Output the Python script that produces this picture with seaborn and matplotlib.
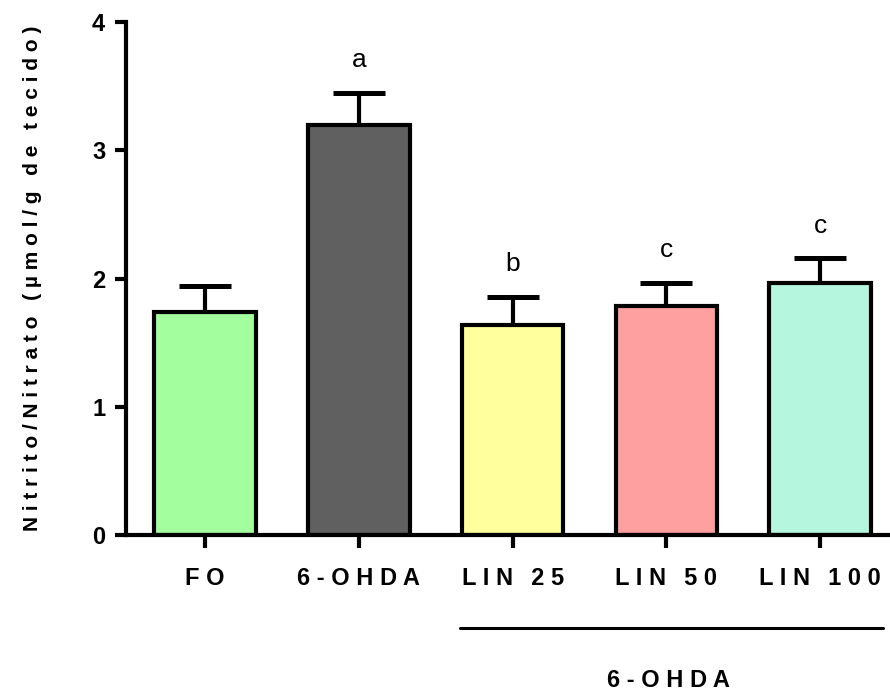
import matplotlib
matplotlib.use("Agg")
import matplotlib.pyplot as plt
import seaborn as sns
import numpy as np
import pandas as pd

groups = ["FO", "6-OHDA", "LIN 25", "LIN 50", "LIN 100"]
means = [1.74, 3.20, 1.64, 1.79, 1.97]
sem = [0.20, 0.25, 0.22, 0.18, 0.19]
letters = ["", "a", "b", "c", "c"]
colors = ["#A3FF9E", "#606060", "#FFFF9E", "#FFA0A0", "#B4F6DE"]
yticks = [0, 1, 2, 3, 4]
ylabel = "Nitrito/Nitrato (µmol/g de tecido)"
bracket_label = "6-OHDA"

sns.set_style("ticks")
plt.rcParams["font.family"] = ["Liberation Sans", "DejaVu Sans"]
for k in ["text.color", "axes.labelcolor", "xtick.color", "ytick.color",
          "axes.edgecolor"]:
    plt.rcParams[k] = "black"

def spaced(s):
    return " ".join(list(s.replace(" ", "\u2009")))

df = pd.DataFrame({"group": groups, "mean": means})

fig = plt.figure(figsize=(8.9, 6.95), dpi=100)
ax = fig.add_axes([0.1416, 0.230, 0.856, 0.738])

sns.barplot(data=df, x="group", y="mean", hue="group", palette=colors,
            legend=False, width=0.66, edgecolor="black", linewidth=3.0,
            saturation=1, ax=ax, zorder=2)

x = np.arange(len(groups))
ax.errorbar(x, means, yerr=[np.zeros(len(sem)), sem], fmt="none",
            ecolor="black", elinewidth=3.0, capsize=18.4, capthick=3.6,
            zorder=1)

for xi, m, s, lab in zip(x, means, sem, letters):
    if lab:
        ax.text(xi, m + s + 0.2, lab, ha="center", va="baseline",
                fontsize=19, color="black")

ax.set_xlim(-0.514, 4.44)
ax.set_ylim(0, 4)
ax.set_yticks(yticks)
ax.set_yticklabels([str(t) for t in yticks], fontsize=17, fontweight="bold")
ax.set_xticks(x)
ax.set_xticklabels([spaced(g) for g in groups], fontsize=17, fontweight="bold")
ax.set_xlabel("")
ax.set_ylabel(spaced(ylabel), fontsize=15, fontweight="bold", labelpad=36)

for sp in ["top", "right"]:
    ax.spines[sp].set_visible(False)
for sp in ["left", "bottom"]:
    ax.spines[sp].set_linewidth(3.0)
    ax.spines[sp].set_color("black")
ax.tick_params(axis="y", length=8, width=3.0, pad=7, colors="black")
ax.tick_params(axis="x", length=9, width=3.0, pad=14, colors="black")

ax.plot([1.66, 4.41], [-0.725, -0.725], color="black", lw=2.2,
        clip_on=False)
ax.text(3.01, -1.13, spaced(bracket_label), ha="center", va="center",
        fontsize=17, fontweight="bold", color="black", clip_on=False)

fig.savefig("out.png", dpi=100)
